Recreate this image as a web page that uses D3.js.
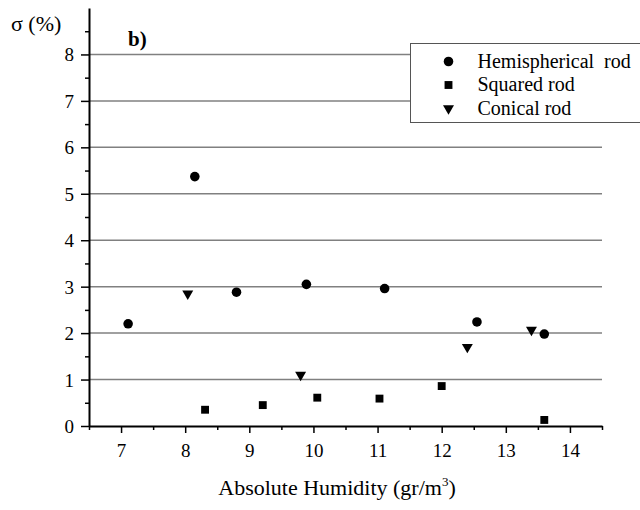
<!DOCTYPE html>
<html>
<head>
<meta charset="utf-8">
<script src="https://cdn.jsdelivr.net/npm/d3@7"></script>
<style>
  body { margin: 0; background: #fff; }
</style>
</head>
<body>
<div id="chart"></div>
<script>
// data
var hemiX = [7.11, 8.15, 8.80, 9.89, 11.11, 12.55, 13.60];
var hemiY = [2.20, 5.37, 2.88, 3.05, 2.96, 2.24, 1.98];

var squareX = [8.31, 9.21, 10.06, 11.03, 12.00, 13.60];
var squareY = [0.35, 0.45, 0.61, 0.59, 0.86, 0.13];

var coneX = [8.04, 9.80, 12.40, 13.40];
var coneY = [2.85, 1.10, 1.70, 2.07];

var xTicks = [7, 8, 9, 10, 11, 12, 13, 14];
var yTicks = [0, 1, 2, 3, 4, 5, 6, 7, 8];
var gridTicks = [1, 2, 3, 4, 5, 6, 7, 8];
var legendNames = ["Hemispherical  rod", "Squared rod", "Conical rod"];

var serif = "'Liberation Serif', 'Times New Roman', serif";

var svgWidth = 640;
var svgHeight = 510;
var margin = { top: 8, right: 38, bottom: 84, left: 89 };
var width = svgWidth - margin.left - margin.right;
var height = svgHeight - margin.top - margin.bottom;

var svg = d3.select("#chart")
  .append("svg")
  .attr("width", svgWidth)
  .attr("height", svgHeight);

var chartGroup = svg.append("g")
  .attr("transform", `translate(${margin.left}, ${margin.top})`);

var x = d3.scaleLinear().domain([6.5, 14.5]).range([0, width]);
var y = d3.scaleLinear().domain([0, 9]).range([height, 0]);

// gridlines
chartGroup.selectAll(".grid")
  .data(gridTicks)
  .enter()
  .append("line")
  .attr("x1", 0)
  .attr("x2", width)
  .attr("y1", d => y(d))
  .attr("y2", d => y(d))
  .attr("stroke", "#808080")
  .attr("stroke-width", 1.5);

// minor ticks
var xMinor = d3.range(6.5, 14.6, 1);
var yMinor = d3.range(0.5, 8.6, 1);

chartGroup.append("g")
  .attr("transform", `translate(0, ${height})`)
  .call(d3.axisBottom(x).tickValues(xMinor).tickSize(4).tickFormat(""))
  .call(g => g.select(".domain").remove())
  .selectAll("line").attr("stroke", "#000").attr("stroke-width", 1.5);

chartGroup.append("g")
  .call(d3.axisLeft(y).tickValues(yMinor).tickSize(4).tickFormat(""))
  .call(g => g.select(".domain").remove())
  .selectAll("line").attr("stroke", "#000").attr("stroke-width", 1.5);

// major axes
var xAxis = chartGroup.append("g")
  .attr("transform", `translate(0, ${height})`)
  .call(d3.axisBottom(x).tickValues(xTicks).tickSize(7).tickSizeOuter(0).tickPadding(11));

var yAxis = chartGroup.append("g")
  .call(d3.axisLeft(y).tickValues(yTicks).tickSize(8).tickSizeOuter(0).tickPadding(7));

[xAxis, yAxis].forEach(function(a) {
  a.select(".domain").attr("stroke", "#000").attr("stroke-width", 2);
  a.selectAll("line").attr("stroke", "#000").attr("stroke-width", 1.5);
  a.selectAll("text")
    .style("font-family", serif)
    .style("font-size", "19px")
    .attr("fill", "#000");
});
yAxis.selectAll("text").attr("dy", "0.34em");

// markers
var circleSym = d3.symbol().type(d3.symbolCircle).size(72);
var squareSym = d3.symbol().type(d3.symbolSquare).size(62);
var triSym = d3.symbol().type(d3.symbolTriangle).size(52);

chartGroup.selectAll(".hemi")
  .data(hemiX)
  .enter()
  .append("path")
  .attr("d", circleSym)
  .attr("transform", (d, i) => `translate(${x(d)}, ${y(hemiY[i])})`)
  .attr("fill", "#000");

chartGroup.selectAll(".square")
  .data(squareX)
  .enter()
  .append("path")
  .attr("d", squareSym)
  .attr("transform", (d, i) => `translate(${x(d)}, ${y(squareY[i])})`)
  .attr("fill", "#000");

chartGroup.selectAll(".cone")
  .data(coneX)
  .enter()
  .append("path")
  .attr("d", triSym)
  .attr("transform", (d, i) => `translate(${x(d)}, ${y(coneY[i])}) rotate(180)`)
  .attr("fill", "#000");

// legend
var legend = svg.append("g").attr("transform", "translate(410.5, 43.5)");
legend.append("rect")
  .attr("width", 240)
  .attr("height", 79)
  .attr("fill", "#fff")
  .attr("stroke", "#555")
  .attr("stroke-width", 1);

var syms = [circleSym, squareSym, triSym];
legendNames.forEach(function(name, i) {
  var row = legend.append("g").attr("transform", `translate(0, ${18 + i * 23.5})`);
  row.append("path")
    .attr("d", syms[i])
    .attr("transform", i == 2 ? "translate(38, 0) rotate(180)" : "translate(38, 0)")
    .attr("fill", "#000");
  row.append("text")
    .attr("x", 67)
    .attr("y", 6)
    .style("font-family", serif)
    .style("font-size", "20px")
    .style("white-space", "pre")
    .text(name);
});

// titles
svg.append("text")
  .attr("x", 11)
  .attr("y", 31)
  .style("font-family", serif)
  .style("font-size", "22px")
  .text("σ (%)");

svg.append("text")
  .attr("x", 128)
  .attr("y", 46)
  .style("font-family", serif)
  .style("font-size", "21px")
  .style("font-weight", "bold")
  .text("b)");

var xTitle = svg.append("text")
  .attr("x", 337)
  .attr("y", 495)
  .attr("text-anchor", "middle")
  .style("font-family", serif)
  .style("font-size", "22px");
xTitle.append("tspan").text("Absolute Humidity (gr/m");
xTitle.append("tspan").style("font-size", "13px").attr("dy", "-9").text("3");
xTitle.append("tspan").attr("dy", "9").text(")");
</script>
</body>
</html>
